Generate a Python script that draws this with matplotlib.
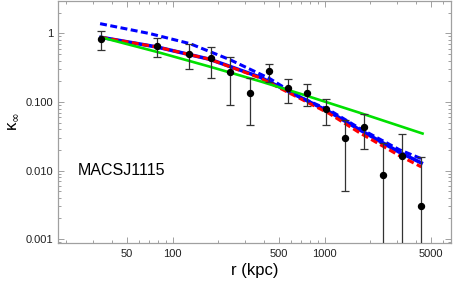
import numpy as np
import matplotlib
matplotlib.use("Agg")
import matplotlib.pyplot as plt
from matplotlib.ticker import FixedLocator, FixedFormatter, LogLocator, NullFormatter

plt.rcParams['font.family'] = ['Liberation Sans', 'DejaVu Sans']
plt.rcParams['lines.scale_dashes'] = False

# data points (r in kpc, kappa, error bar limits)
r_obs = [33.8, 78.9, 128.5, 178, 240, 322, 430, 571, 766, 1016, 1358, 1824, 2415, 3220, 4315]
k_obs = [0.838, 0.653, 0.495, 0.433, 0.271, 0.137, 0.283, 0.157, 0.134, 0.0783, 0.0299, 0.0438, 0.00865, 0.0164, 0.00306]
k_hi = [1.08, 0.865, 0.69, 0.63, 0.458, 0.226, 0.357, 0.219, 0.181, 0.11, 0.0542, 0.0669, 0.0248, 0.0339, 0.0158]
k_lo = [0.58, 0.457, 0.306, 0.227, 0.0895, 0.0463, 0.195, 0.0957, 0.0875, 0.0458, 0.005, 0.0203, 1e-5, 1e-5, 1e-5]

# model curves
r_mod = [33.8, 78.9, 175.8, 374.3, 685.4, 1079, 1698, 3108, 4335]
k_blue = [0.875, 0.632, 0.418, 0.231, 0.118, 0.0715, 0.0394, 0.0185, 0.0129]
k_red = [0.875, 0.632, 0.418, 0.225, 0.1132, 0.0673, 0.0356, 0.0165, 0.0113]

r_bdash = [33.3, 71.0, 129.9, 237.8, 435.5, 685.4, 1079, 1698, 3108, 4335]
k_bdash = [1.384, 0.99, 0.708, 0.414, 0.219, 0.118, 0.0757, 0.0414, 0.0201, 0.0149]

r_green = [33.8, 78.9, 175.8, 374.3, 685.4, 1698, 4420]
k_green = [0.875, 0.536, 0.3265, 0.2008, 0.1325, 0.0696, 0.0346]

fig = plt.figure(figsize=(4.63, 3.03), dpi=100)
ax = fig.add_axes([0.1253, 0.198, 0.974 - 0.1253, 0.997 - 0.198])

ax.plot(r_mod, k_blue, color='#0000ff', lw=2.6)
ax.plot(r_mod, k_red, color='#ff0000', lw=2.2, dashes=(5, 2.5))
ax.plot(r_bdash, k_bdash, color='#0000ff', lw=2.2, dashes=(5, 2.5))
ax.plot(r_green, k_green, color='#00e000', lw=1.9)

yerr = [np.array(k_obs) - np.array(k_lo), np.array(k_hi) - np.array(k_obs)]
ax.errorbar(r_obs, k_obs, yerr=yerr, fmt='o', color='black', ecolor='#333333',
            elinewidth=0.9, capsize=2.8, capthick=0.9, markersize=4.3, zorder=5)

ax.set_xscale('log')
ax.set_yscale('log')
ax.set_xlim(17.6, 6800)
ax.set_ylim(0.000877, 2.97)

xt = [50, 100, 500, 1000, 5000]
ax.xaxis.set_major_locator(FixedLocator(xt))
ax.xaxis.set_major_formatter(FixedFormatter([str(v) for v in xt]))
ax.xaxis.set_minor_locator(LogLocator(base=10, subs=np.arange(2, 10), numticks=20))
ax.xaxis.set_minor_formatter(NullFormatter())

yt = [0.001, 0.01, 0.1, 1]
ax.yaxis.set_major_locator(FixedLocator(yt))
ax.yaxis.set_major_formatter(FixedFormatter(['0.001', '0.010', '0.100', '1']))
ax.yaxis.set_minor_locator(LogLocator(base=10, subs=np.arange(2, 10), numticks=20))
ax.yaxis.set_minor_formatter(NullFormatter())

for s in ax.spines.values():
    s.set_color('#a0a0a0')
    s.set_linewidth(0.9)
ax.tick_params(which='both', direction='in', top=True, right=True, color='#a0a0a0',
               labelsize=8, labelcolor='#222222', width=0.7)
ax.tick_params(which='major', length=4.5)
ax.tick_params(which='minor', length=2.5)
ax.tick_params(axis='x', pad=4)

ax.set_xlabel('r (kpc)', fontsize=12, labelpad=3)
ax.set_ylabel('κ$_{\\infty}$', fontsize=12, labelpad=4)

ax.text(0.051, 0.301, 'MACSJ1115', transform=ax.transAxes, fontsize=11.5,
        va='center', ha='left')

fig.savefig('out.png', dpi=100)
